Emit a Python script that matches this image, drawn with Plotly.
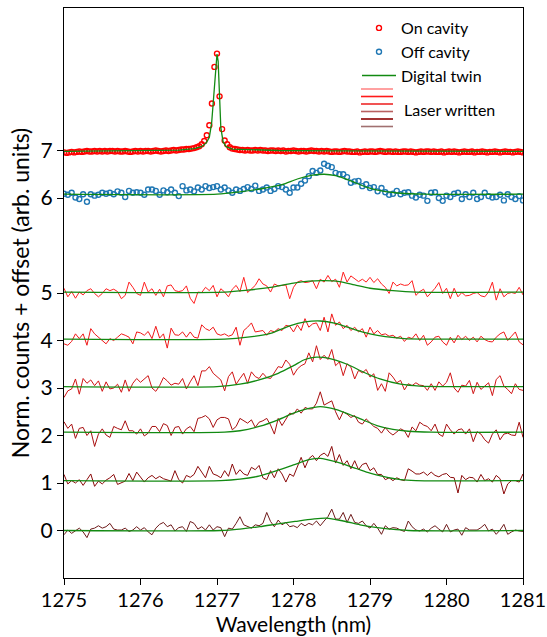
import numpy as np
import plotly.graph_objects as go

# ---------------- data (values relative to each trace's own baseline) ----------------
series_offsets = {"on": 7.98, "off": 7.08}
laser_offsets = [0.0, 1.05, 2.07, 3.03, 4.03, 5.02]   # line 0 ... line 5
ytick_vals = [0, 1, 2, 3, 4, 5, 7, 8]
ytick_text = ["0", "1", "2", "3", "4", "5", "6", "7"]
xtick_vals = [1275, 1276, 1277, 1278, 1279, 1280, 1281]

on_cavity = [
    -0.02, -0.03, -0.02, -0.01, -0.02, -0.01, 0.0, -0.01, 0.0, 0.01, 0.0, 0.0, 0.01, 0.0, 0.01,
    0.0, 0.01, 0.0, 0.01, 0.01, 0.0, 0.01, 0.0, 0.0, 0.01, 0.0, -0.01, 0.0, 0.01, 0.0,
    0.01, 0.0, 0.01, 0.01, 0.0, 0.01, 0.02, 0.01, 0.0, 0.01, 0.02, 0.01, 0.02, 0.03, 0.02,
    0.03, 0.04, 0.04, 0.05, 0.05, 0.06, 0.07, 0.09, 0.11, 0.15, 0.22, 0.34, 0.55, 1.01, 1.78,
    2.06,
    1.16, 0.47, 0.23, 0.15, 0.09, 0.06, 0.05, 0.04, 0.03, 0.03, 0.02, 0.03, 0.02, 0.02, 0.03,
    0.02, 0.03, 0.02, 0.02, 0.01, 0.02, 0.02, 0.01, 0.02, 0.01, 0.02, 0.0, 0.01, 0.01, 0.02,
    0.01, 0.0, 0.01, 0.01, 0.0, 0.01, 0.02, 0.01, 0.01, 0.0, 0.01, 0.0, 0.01, 0.0, -0.01,
    0.0, 0.0, -0.01, 0.0, 0.01, 0.0, 0.0, -0.01, -0.01, 0.0, -0.02, -0.01, 0.0, -0.01, 0.0,
    0.0, -0.01, 0.0, 0.01, 0.0, -0.01, 0.0, 0.0, -0.01, 0.0, -0.01, -0.01, 0.0, 0.0, -0.01,
    0.0, -0.01, -0.02, -0.01, 0.0, -0.01, 0.0, 0.0, -0.01, 0.0, -0.01, -0.01, 0.0, -0.02, -0.01,
    0.0, -0.01, 0.0, -0.01, -0.02, -0.01, 0.0, -0.01, -0.01, 0.0, -0.02, -0.01, -0.01, 0.0, -0.01,
    -0.02, -0.01, -0.01, 0.0, -0.01, -0.02, -0.01, 0.0, -0.01, -0.01, -0.02, -0.01, 0.0, -0.01, -0.02,
]

off_cavity = [
    0.01, -0.01, 0.03, -0.07, -0.10, 0.0, -0.16, 0.0, -0.03, -0.01,
    0.03, 0.01, 0.03, 0.0, 0.06, 0.03, -0.06, 0.07, 0.03, 0.04,
    0.03, -0.01, 0.10, 0.10, 0.07, -0.01, 0.08, 0.04, 0.10, 0.03,
    -0.04, 0.17, 0.08, 0.10, 0.06, 0.14, 0.10, 0.17, 0.13, 0.15,
    0.17, 0.10, 0.14, 0.08, 0.03, 0.10, 0.07, 0.11, 0.15, 0.11,
    0.18, 0.07, 0.10, 0.14, 0.07, 0.11, 0.17, 0.15, 0.10, 0.03,
    0.14,
    0.14, 0.22, 0.29, 0.38, 0.49, 0.45, 0.50, 0.64, 0.60,
    0.57, 0.45, 0.42, 0.42, 0.36, 0.24, 0.27, 0.28, 0.17, 0.21,
    0.13, 0.15, 0.06, 0.13, 0.04, -0.01, 0.01, 0.07, 0.0, 0.03,
    0.04, -0.03, -0.07, -0.01, -0.03, -0.14, 0.03, 0.04, -0.08, -0.14,
    -0.03, -0.06, 0.01, 0.03, -0.10, 0.0, -0.06, 0.03, -0.10, -0.06,
    0.03, -0.04, -0.07, -0.06, -0.01, -0.13, 0.0, -0.06, -0.10, -0.04,
    -0.13,
]

laser_0 = [
    -0.09, 0.01, -0.06, -0.01, 0.05, -0.03, -0.15, 0.03, 0.05, 0.10,
    0.05, 0.08, 0.15, 0.03, 0.01, 0.01, 0.05, -0.02, 0.01, 0.08,
    0.01, 0.06, -0.03, -0.09, 0.05, 0.13, 0.17, 0.08, 0.12, -0.01,
    0.06, 0.08, -0.02, 0.19, 0.15, 0.03, 0.08, 0.01, 0.12, 0.01,
    0.08, 0.06, -0.13, 0.05, 0.03, 0.15, 0.29, 0.12, 0.08, 0.05,
    0.12, 0.10, 0.15, 0.38, 0.19, 0.08, 0.22, 0.12, 0.17, 0.08,
    0.10,
    0.06, 0.15, 0.10, 0.15, 0.12, 0.20, 0.10, 0.20, 0.29,
    0.45, 0.24, 0.24, 0.38, 0.17, 0.34, 0.17, 0.15, 0.20, 0.10,
    0.05, 0.15, 0.05, -0.08, 0.10, 0.03, 0.06, 0.05, 0.01, -0.02,
    0.20, 0.08, 0.01, -0.01, 0.03, -0.03, 0.05, 0.10, 0.03, -0.03,
    0.13, -0.03, 0.01, 0.03, -0.10, 0.06, 0.01, 0.01, 0.01, 0.06,
    0.13, -0.01, 0.03, -0.08, 0.01, 0.13, -0.08, -0.03, 0.01, -0.01,
    -0.02,
]
laser_1 = [
    0.13, -0.07, 0.0, -0.05, 0.02, -0.10, 0.02, 0.14, -0.12, -0.01,
    -0.07, 0.01, 0.06, 0.13, -0.08, -0.05, -0.01, 0.15, 0.0, 0.18,
    0.07, -0.03, 0.06, 0.11, 0.04, 0.09, 0.04, 0.01, -0.01, 0.21,
    0.02, -0.05, 0.11, 0.07, 0.13, 0.30, 0.18, 0.06, 0.30, 0.14,
    0.11, 0.06, 0.21, 0.09, 0.35, 0.13, 0.23, 0.14, 0.11, 0.28,
    0.23, 0.32, 0.06, 0.02, 0.21, 0.06, 0.25, 0.14, -0.03, 0.14,
    0.09,
    0.30, 0.49, 0.27, 0.46, 0.53, 0.42, 0.53, 0.58, 0.51,
    0.72, 0.37, 0.55, 0.32, 0.42, 0.25, 0.42, 0.23, 0.34, 0.37,
    0.21, 0.27, 0.13, 0.13, 0.02, 0.06, 0.0, 0.06, 0.02, 0.0,
    0.25, 0.20, 0.14, 0.14, 0.18, 0.11, 0.18, 0.11, 0.08, 0.13,
    0.15, 0.07, 0.06, -0.26, 0.11, 0.02, 0.07, 0.06, -0.03, 0.13,
    0.0, 0.04, -0.03, 0.11, 0.04, -0.28, -0.07, 0.0, 0.0, -0.03,
    0.14,
]
laser_2 = [
    0.22, 0.08, 0.17, -0.13, 0.08, 0.10, -0.07, 0.03, -0.30, -0.04,
    0.07, -0.06, -0.11, 0.12, 0.08, 0.05, 0.24, 0.03, 0.03, -0.04,
    0.07, -0.08, -0.02, 0.12, 0.12, 0.01, 0.18, 0.14, -0.07, 0.10,
    0.12, -0.04, 0.07, 0.12, 0.01, 0.29, 0.31, 0.35, 0.28, 0.10,
    0.26, 0.31, 0.31, 0.28, 0.05, 0.12, 0.29, 0.24, 0.19, 0.26,
    0.10, 0.21, 0.24, 0.29, 0.15, -0.04, 0.29, 0.14, 0.28, 0.40,
    0.38,
    0.49, 0.40, 0.52, 0.49, 0.49, 0.61, 0.85, 0.57, 0.61,
    0.66, 0.43, 0.26, 0.43, 0.38, 0.31, 0.35, 0.21, 0.17, 0.28,
    0.19, 0.12, 0.08, -0.02, 0.10, 0.0, -0.06, 0.01, 0.07, 0.03,
    -0.11, 0.11, 0.03, 0.21, 0.15, 0.12, 0.03, 0.17, -0.04, -0.09,
    0.17, 0.05, -0.04, 0.05, 0.07, -0.04, 0.07, -0.20, 0.01, -0.04,
    -0.16, -0.23, -0.04, 0.05, -0.16, -0.04, -0.02, -0.06, -0.07, 0.21,
    -0.11,
]
laser_3 = [
    -0.23, -0.09, -0.05, 0.16, -0.16, 0.17, 0.07, 0.14, 0.02, 0.12,
    -0.10, 0.10, -0.05, -0.03, 0.05, -0.12, 0.14, -0.10, 0.07, 0.17,
    0.09, 0.17, 0.23, -0.03, -0.10, 0.02, 0.19, 0.12, 0.03, 0.07,
    0.05, 0.17, -0.05, 0.10, 0.23, 0.02, 0.33, 0.33, 0.42, 0.28,
    0.21, 0.14, -0.09, 0.21, 0.31, 0.05, 0.17, 0.28, 0.07, 0.31,
    0.21, 0.17, 0.28, 0.19, 0.17, 0.30, 0.42, 0.40, 0.56, 0.47,
    0.24,
    0.37, 0.44, 0.48, 0.71, 0.52, 0.86, 0.57, 0.66, 0.57,
    0.78, 0.44, 0.52, 0.23, 0.48, 0.41, 0.16, 0.34, 0.29, 0.36,
    0.20, 0.27, -0.08, 0.06, -0.10, 0.29, 0.20, 0.08, 0.13, -0.07,
    0.06, 0.02, 0.08, 0.03, 0.02, -0.08, 0.06, -0.08, 0.10, 0.01,
    0.09, 0.29, -0.03, -0.12, 0.03, 0.01, 0.13, -0.15, 0.09, -0.06,
    0.01, 0.08, -0.19, 0.15, 0.23, 0.01, -0.06, -0.15, 0.06, -0.06,
    -0.08,
]
laser_4 = [
    -0.10, -0.13, -0.05, 0.11, 0.01, 0.11, -0.13, 0.22, 0.11, 0.04,
    -0.01, -0.10, 0.01, -0.03, 0.04, 0.11, 0.08, 0.04, -0.10, 0.15,
    0.13, 0.08, 0.16, 0.01, 0.27, 0.02, 0.11, -0.19, 0.23, 0.09,
    0.08, 0.15, 0.04, 0.15, 0.04, 0.02, 0.30, 0.22, 0.18, 0.25,
    0.11, 0.08, 0.11, 0.06, 0.09, 0.25, -0.13, 0.18, 0.25, 0.34,
    0.15, 0.16, 0.18, 0.08, 0.18, 0.15, 0.22, 0.18, 0.29, 0.27,
    0.15,
    0.30, 0.18, 0.43, 0.25, 0.32, 0.34, 0.18, 0.46, 0.15,
    0.53, 0.29, 0.36, 0.22, 0.29, 0.18, 0.25, 0.15, 0.22, 0.04,
    0.25, 0.11, 0.18, 0.09, 0.11, 0.06, 0.08, 0.02, 0.06, -0.05,
    0.04, 0.01, 0.11, -0.03, 0.08, -0.13, -0.06, 0.04, 0.06, -0.06,
    -0.13, 0.04, -0.08, 0.08, -0.01, 0.06, -0.03, 0.04, -0.06, 0.06,
    -0.01, -0.05, -0.06, 0.04, 0.11, 0.15, -0.03, 0.06, 0.15, -0.06,
    -0.12,
]
laser_5 = [
    0.08, -0.10, 0.01, -0.13, 0.0, -0.06, 0.03, 0.07, -0.03, -0.10,
    -0.03, 0.07, 0.03, 0.06, 0.01, -0.14, -0.07, 0.21, 0.10, -0.03,
    -0.07, 0.21, 0.0, 0.07, -0.07, 0.06, -0.10, 0.13, 0.15, 0.03,
    0.01, 0.03, 0.13, -0.13, -0.24, 0.0, -0.01, 0.10, 0.03, 0.14,
    -0.10, 0.07, 0.0, -0.10, 0.06, 0.14, 0.01, 0.31, -0.01, 0.06,
    0.14, 0.28, 0.17, 0.13, 0.0, 0.17, 0.13, 0.14, 0.15, -0.14,
    0.10,
    0.21, 0.24, 0.20, 0.21, 0.24, 0.07, 0.27, 0.21, 0.35,
    0.22, 0.27, 0.10, 0.42, 0.21, 0.34, 0.28, 0.22, 0.27, 0.21,
    0.31, 0.20, 0.28, 0.17, 0.10, -0.03, 0.21, 0.13, 0.17, 0.14,
    0.15, 0.24, -0.07, 0.01, 0.06, -0.10, -0.01, 0.08, 0.20, -0.03,
    0.08, -0.14, 0.08, -0.10, -0.01, -0.08, -0.07, -0.03, -0.01, -0.08,
    -0.10, 0.0, 0.21, -0.17, 0.07, -0.10, -0.03, -0.01, -0.03, 0.10,
    -0.06,
]
laser_data = [laser_0, laser_1, laser_2, laser_3, laser_4, laser_5]

# digital twin curves (wavelength, value)
twin_on_x = [1275, 1276, 1276.5, 1276.7, 1276.8, 1276.86, 1276.9, 1276.93, 1276.96, 1276.985, 1277.0,
             1277.015, 1277.035, 1277.05, 1277.08, 1277.12, 1277.2, 1277.4, 1277.6, 1277.8, 1278.5, 1281]
twin_on_y = [0.0, 0.01, 0.03, 0.06, 0.1, 0.18, 0.3, 0.6, 1.3, 1.9, 2.05,
             1.9, 1.2, 0.5, 0.2, 0.1, 0.05, 0.04, 0.04, 0.02, 0.01, 0.0]
twin_off_x = [1275, 1277.0, 1277.3, 1277.6, 1277.85, 1278.05, 1278.25, 1278.4, 1278.55, 1278.75,
              1278.95, 1279.15, 1279.4, 1279.7, 1281]
twin_off_y = [0.0, 0.0, 0.05, 0.12, 0.2, 0.32, 0.4, 0.42, 0.39, 0.28, 0.15, 0.07, 0.02, 0.0, 0.0]

twin_laser_x = [
    [1275, 1277.05, 1277.3, 1277.56, 1277.8, 1278.02, 1278.25, 1278.43, 1278.65, 1278.87, 1279.05, 1279.26, 1279.5, 1281],
    [1275, 1277.05, 1277.3, 1277.56, 1277.8, 1278.0, 1278.2, 1278.35, 1278.55, 1278.83, 1279.0, 1279.17, 1279.4, 1279.6, 1281],
    [1275, 1277.1, 1277.3, 1277.55, 1277.8, 1278.0, 1278.15, 1278.35, 1278.55, 1278.83, 1279.09, 1279.3, 1279.5, 1279.8, 1281],
    [1275, 1277.0, 1277.3, 1277.55, 1277.8, 1278.0, 1278.15, 1278.3, 1278.45, 1278.7, 1278.92, 1279.13, 1279.4, 1279.65, 1281],
    [1275, 1277.1, 1277.4, 1277.7, 1277.95, 1278.15, 1278.35, 1278.55, 1278.8, 1279.0, 1279.2, 1279.45, 1279.7, 1281],
    [1275, 1277.1, 1277.4, 1277.7, 1278.0, 1278.2, 1278.4, 1278.6, 1278.8, 1279.0, 1279.3, 1279.6, 1281],
]
twin_laser_y = [
    [0.0, 0.0, 0.03, 0.08, 0.14, 0.19, 0.24, 0.26, 0.2, 0.12, 0.07, 0.03, 0.0, 0.0],
    [0.0, 0.0, 0.03, 0.1, 0.22, 0.33, 0.44, 0.47, 0.4, 0.25, 0.16, 0.09, 0.02, 0.0, 0.0],
    [0.0, 0.0, 0.03, 0.12, 0.26, 0.4, 0.48, 0.54, 0.48, 0.31, 0.14, 0.06, 0.02, 0.0, 0.0],
    [0.0, 0.0, 0.05, 0.14, 0.28, 0.44, 0.57, 0.62, 0.6, 0.47, 0.3, 0.16, 0.05, 0.01, 0.0],
    [0.0, 0.0, 0.04, 0.12, 0.28, 0.36, 0.38, 0.33, 0.2, 0.11, 0.05, 0.01, 0.0, 0.0],
    [0.0, 0.0, 0.04, 0.1, 0.19, 0.23, 0.24, 0.22, 0.15, 0.08, 0.03, 0.0, 0.0],
]

laser_colors = ["#6e1a1a", "#8b0a0a", "#a80f0f", "#d01515", "#f01818", "#ff2020"]
legend_line_colors = ["#ff8a8a", "#ff1a1a", "#ee2a2a", "#b86060", "#8b0000", "#a07070"]
twin_color = "#128a12"
FONT = "Lato"

# ---------------- figure ----------------
fig = go.Figure()

wl_on = np.linspace(1275, 1281, len(on_cavity))
wl_off = np.linspace(1275, 1281, len(off_cavity))

fig.add_trace(go.Scatter(
    x=wl_on, y=np.array(on_cavity) + series_offsets["on"], mode="markers", name="On cavity",
    marker=dict(symbol="circle-open", size=5, color="#ff0000", line=dict(width=1.4, color="#ff0000"))))
fig.add_trace(go.Scatter(
    x=wl_off, y=np.array(off_cavity) + series_offsets["off"], mode="markers", name="Off cavity",
    marker=dict(symbol="circle-open", size=5, color="#1f77b4", line=dict(width=1.4, color="#1f77b4"))))
fig.add_trace(go.Scatter(
    x=twin_on_x, y=np.array(twin_on_y) + series_offsets["on"], mode="lines", name="Digital twin",
    line=dict(color=twin_color, width=1.3)))
fig.add_trace(go.Scatter(
    x=twin_off_x, y=np.array(twin_off_y) + series_offsets["off"], mode="lines", showlegend=False,
    line=dict(color=twin_color, width=1.3, shape="spline", smoothing=0.8)))

for k, vals in enumerate(laser_data):
    wl = np.linspace(1275, 1281, len(vals))
    fig.add_trace(go.Scatter(
        x=wl, y=np.array(vals) + laser_offsets[k], mode="lines", showlegend=False,
        line=dict(color=laser_colors[k], width=1.0)))
    fig.add_trace(go.Scatter(
        x=twin_laser_x[k], y=np.array(twin_laser_y[k]) + laser_offsets[k], mode="lines",
        showlegend=False, line=dict(color=twin_color, width=1.3, shape="spline", smoothing=0.8)))

# plot-area geometry in pixels (for legend decorations)
W, H = 547, 637
ML, MR, MT, MB = 64, 24, 8, 59
pw, ph = W - ML - MR, H - MT - MB


def px_x(px):
    return (px - ML) / pw


def px_y(py):
    return 1 - (py - MT) / ph


shapes = []
legend_line_y = [89, 96.5, 104, 111.5, 119, 126.5]
for c, py in zip(legend_line_colors, legend_line_y):
    shapes.append(dict(type="line", xref="paper", yref="paper",
                       x0=px_x(361), x1=px_x(393), y0=px_y(py), y1=px_y(py),
                       line=dict(color=c, width=1.6)))

fig.update_layout(
    width=W, height=H,
    margin=dict(l=ML, r=MR, t=MT, b=MB, autoexpand=False),
    plot_bgcolor="white", paper_bgcolor="white",
    font=dict(family=FONT, color="black"),
    showlegend=True,
    legend=dict(x=px_x(357), y=px_y(11), xanchor="left", yanchor="top",
                bgcolor="rgba(0,0,0,0)", font=dict(size=16, family=FONT), itemwidth=34,
                tracegroupgap=0),
    shapes=shapes,
    annotations=[dict(text="Laser written", xref="paper", yref="paper",
                      x=px_x(402), y=px_y(109), xanchor="left", yanchor="middle",
                      showarrow=False, font=dict(size=16, family=FONT))],
    xaxis=dict(range=[1275, 1281], tickvals=xtick_vals, ticks="outside", ticklen=6,
               tickwidth=1, tickcolor="black", showline=True, linecolor="black", linewidth=1,
               mirror=True, showgrid=False, zeroline=False, automargin=False,
               ticklabeloverflow="allow", ticklabelstandoff=-2,
               tickfont=dict(size=20, family=FONT),
               title=dict(text="Wavelength (nm)", font=dict(size=21, family=FONT), standoff=3)),
    yaxis=dict(range=[-1, 11], tickvals=ytick_vals, ticktext=ytick_text, ticks="outside",
               ticklen=6, tickwidth=1, tickcolor="black", showline=True, linecolor="black",
               linewidth=1, mirror=True, showgrid=False, zeroline=False, automargin=False,
               ticklabeloverflow="allow",
               tickfont=dict(size=21, family=FONT),
               title=dict(text="Norm. counts + offset (arb. units)", font=dict(size=23, family=FONT),
                          standoff=4)),
)

fig.write_html("out.html")
